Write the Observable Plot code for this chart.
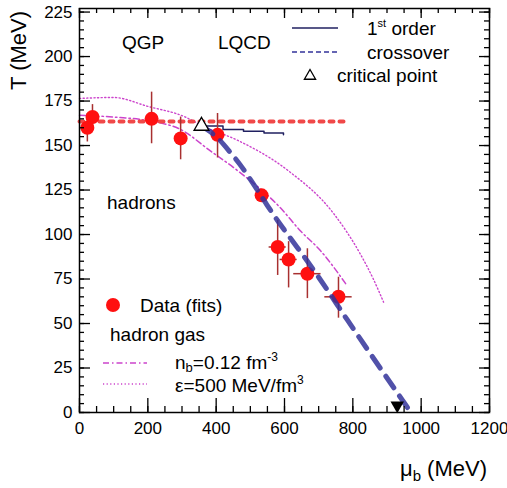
<!DOCTYPE html>
<html><head><meta charset="utf-8">
<script src="https://cdn.jsdelivr.net/npm/d3@7"></script>
<script src="https://cdn.jsdelivr.net/npm/@observablehq/plot@0.6"></script>
<style>body{margin:0;background:#fff}</style>
</head><body><div id="chart"></div>
<script>
// ---- data ----
const dataMu   = [23, 38, 211, 296, 404, 533, 580, 612, 667, 758];
const dataT    = [160, 166, 165, 154, 156, 122, 93, 86, 78, 65];
const dataTlo  = [152, 159, 151, 142, 143, 119, 77, 70, 64, 53];
const dataThi  = [168, 173, 180, 166, 168, 125, 108, 96, 92, 76];
const dataMuErr = [0, 0, 0, 12, 12, 0, 25, 25, 40, 40];

const crossMu = [357, 400, 442, 471, 500, 544, 579, 617, 667, 700, 784, 880, 970];
const crossT  = [161, 155, 146, 139, 131, 118, 108, 98, 85, 76, 52, 25, 0];

const firstMu = [357, 420, 480, 540, 597];
const firstT  = [161, 159, 158, 157, 156];

const critMu = [357];
const critT  = [161];

const nucMu = [930];
const nucT  = [4];

const freezeMu = [0, 790];
const freezeT  = [163.5, 163.5];

const nbMu = [0, 100, 200, 296, 383, 462, 588, 647, 705, 784];
const nbT  = [167, 166, 164, 159, 147, 136, 115, 102, 91, 71];

const epsMu = [0, 100, 200, 310, 360, 462, 610, 743, 822, 860, 890];
const epsT  = [176.5, 177, 172, 166, 161, 153, 136, 112, 89, 75, 62];

const xTicks = [0, 200, 400, 600, 800, 1000, 1200];
const xMinor = d3.range(0, 1201, 50);
const yTicks = [0, 25, 50, 75, 100, 125, 150, 175, 200, 225];
const yMinor = d3.range(0, 227, 5);

// ---- tables ----
const pts = dataMu.map((m, i) => ({mu: m, T: dataT[i], lo: dataTlo[i], hi: dataThi[i], e: dataMuErr[i]}));
const toXY = (xs, ys) => xs.map((x, i) => ({mu: x, T: ys[i]}));
const cross = toXY(crossMu, crossT);
const first = toXY(firstMu, firstT);
const freeze = toXY(freezeMu, freezeT);
const nb = toXY(nbMu, nbT);
const eps = toXY(epsMu, epsT);

const W = 507, H = 488, mL = 79, mR = 18, mT = 8, mB = 76;
const iW = W - mL - mR, iH = H - mT - mB;
const FONT = "Liberation Sans, Arial, Helvetica, sans-serif";
const magenta = "#cc44cc";
const navy = "#33339a";

const plot = Plot.plot({
  width: W, height: H,
  marginLeft: mL, marginRight: mR, marginTop: mT, marginBottom: mB,
  style: {fontFamily: FONT, background: "#fff", color: "#000"},
  x: {domain: [0, 1200]},
  y: {domain: [0, 227]},
  marks: [
    // curves
    Plot.line(eps, {x: "mu", y: "T", stroke: magenta, strokeWidth: 1.4, strokeDasharray: "1.2,2.4", curve: "monotone-x"}),
    Plot.line(nb, {x: "mu", y: "T", stroke: magenta, strokeWidth: 1.5, strokeDasharray: "6,3,1.5,3", curve: "monotone-x"}),
    Plot.line(freeze, {x: "mu", y: "T", stroke: "#f04848", strokeWidth: 4, strokeDasharray: "4,6"}),
    Plot.line(first, {x: "mu", y: "T", stroke: "#202060", strokeWidth: 1.5, curve: "step-after"}),
    // error bars
    Plot.ruleX(pts, {x: "mu", y1: "lo", y2: "hi", stroke: "#a83030", strokeWidth: 1.5}),
    Plot.ruleY(pts.filter(d => d.e > 0), {y: "T", x1: d => d.mu - d.e, x2: d => d.mu + d.e, stroke: "#a83030", strokeWidth: 1.5}),
    // points
    Plot.dot(pts, {x: "mu", y: "T", r: 7, fill: "#ff1010", stroke: "none"}),
    // crossover
    Plot.line(cross, {x: "mu", y: "T", stroke: navy, strokeWidth: 5, strokeDasharray: "14,10", strokeOpacity: 0.85, curve: "monotone-x"}),
    // critical point & nuclear matter
    Plot.dot(toXY(critMu, critT), {x: "mu", y: "T", symbol: "triangle", r: 5.5, fill: "white", stroke: "black", strokeWidth: 1.3}),
    Plot.dot(toXY(nucMu, nucT), {x: "mu", y: "T", symbol: "triangle", rotate: 180, r: 5, fill: "black"}),
    // frame & ticks
    Plot.frame({stroke: "black", strokeWidth: 1.5}),
    Plot.tickX(xTicks, {x: d => d, insetTop: iH - 14, stroke: "black", strokeWidth: 1.3}),
    Plot.tickX(xMinor, {x: d => d, insetTop: iH - 6, stroke: "black", strokeWidth: 1.3}),
    Plot.tickX(xTicks, {x: d => d, insetBottom: iH - 10, stroke: "black", strokeWidth: 1.3}),
    Plot.tickX(xMinor, {x: d => d, insetBottom: iH - 5, stroke: "black", strokeWidth: 1.3}),
    Plot.tickY(yTicks, {y: d => d, insetRight: iW - 11, stroke: "black", strokeWidth: 1.3}),
    Plot.tickY(yMinor, {y: d => d, insetRight: iW - 5, stroke: "black", strokeWidth: 1.3}),
    Plot.tickY(yTicks, {y: d => d, insetLeft: iW - 10, stroke: "black", strokeWidth: 1.3}),
    Plot.tickY(yMinor, {y: d => d, insetLeft: iW - 5, stroke: "black", strokeWidth: 1.3}),
    Plot.axisX({ticks: xTicks, tickSize: 0, tickPadding: 9, fontSize: 17, label: null, tickFormat: d => String(d)}),
    Plot.axisY({ticks: yTicks, tickSize: 0, tickPadding: 7, fontSize: 17, label: null, tickFormat: d => String(d)})
  ]
});
document.getElementById("chart").appendChild(plot);

// ---- annotations & legend ----
const svg = d3.select(plot);
const g = svg.append("g").attr("font-family", FONT).attr("fill", "black");
function txt(x, cy, s, size = 19, anchor = "start") {
  return g.append("text").attr("x", x).attr("y", cy + size * 0.36).attr("font-size", size).attr("text-anchor", anchor).text(s);
}
txt(143, 42, "QGP", 19, "middle");
txt(218, 42, "LQCD");
g.append("line").attr("x1", 292).attr("x2", 338).attr("y1", 28).attr("y2", 28).attr("stroke", "#202060").attr("stroke-width", 1.5);
{
  const t = txt(367, 28, "1");
  t.append("tspan").text("st").attr("font-size", 11).attr("dy", -8);
  t.append("tspan").text(" order").attr("dy", 8);
}
g.append("line").attr("x1", 292).attr("x2", 338).attr("y1", 52).attr("y2", 52).attr("stroke", navy).attr("stroke-width", 1.5).attr("stroke-dasharray", "5,3");
txt(367, 52, "crossover");
g.append("path").attr("d", d3.symbol(d3.symbolTriangle2, 90)()).attr("transform", "translate(310,76)").attr("fill", "white").attr("stroke", "black").attr("stroke-width", 1.3);
txt(337, 75, "critical point");
txt(107, 202, "hadrons");
g.append("circle").attr("cx", 113).attr("cy", 305).attr("r", 7).attr("fill", "#ff1010");
txt(140, 305, "Data (fits)");
txt(110, 334, "hadron gas");
g.append("line").attr("x1", 103).attr("x2", 147).attr("y1", 363).attr("y2", 363).attr("stroke", magenta).attr("stroke-width", 1.4).attr("stroke-dasharray", "6,3,1.5,3");
{
  const t = txt(175, 362, "n");
  t.append("tspan").text("b").attr("font-size", 13).attr("dy", 3);
  t.append("tspan").text("=0.12 fm").attr("dy", -3);
  t.append("tspan").text("-3").attr("font-size", 12).attr("dy", -8);
}
g.append("line").attr("x1", 103).attr("x2", 147).attr("y1", 384).attr("y2", 384).attr("stroke", magenta).attr("stroke-width", 1.4).attr("stroke-dasharray", "1.2,2.4");
{
  const t = txt(175, 385, "\u03b5=500 MeV/fm");
  t.append("tspan").text("3").attr("font-size", 12).attr("dy", -8);
}
// axis titles
g.append("text").attr("transform", "translate(26,90) rotate(-90)").attr("font-size", 22).attr("text-anchor", "start").text("T (MeV)");
{
  const t = g.append("text").attr("x", 487).attr("y", 476).attr("font-size", 22).attr("text-anchor", "end");
  t.append("tspan").text("\u03bc");
  t.append("tspan").text("b").attr("font-size", 15).attr("dy", 5);
  t.append("tspan").text(" (MeV)").attr("dy", -5);
}
</script>
</body></html>
